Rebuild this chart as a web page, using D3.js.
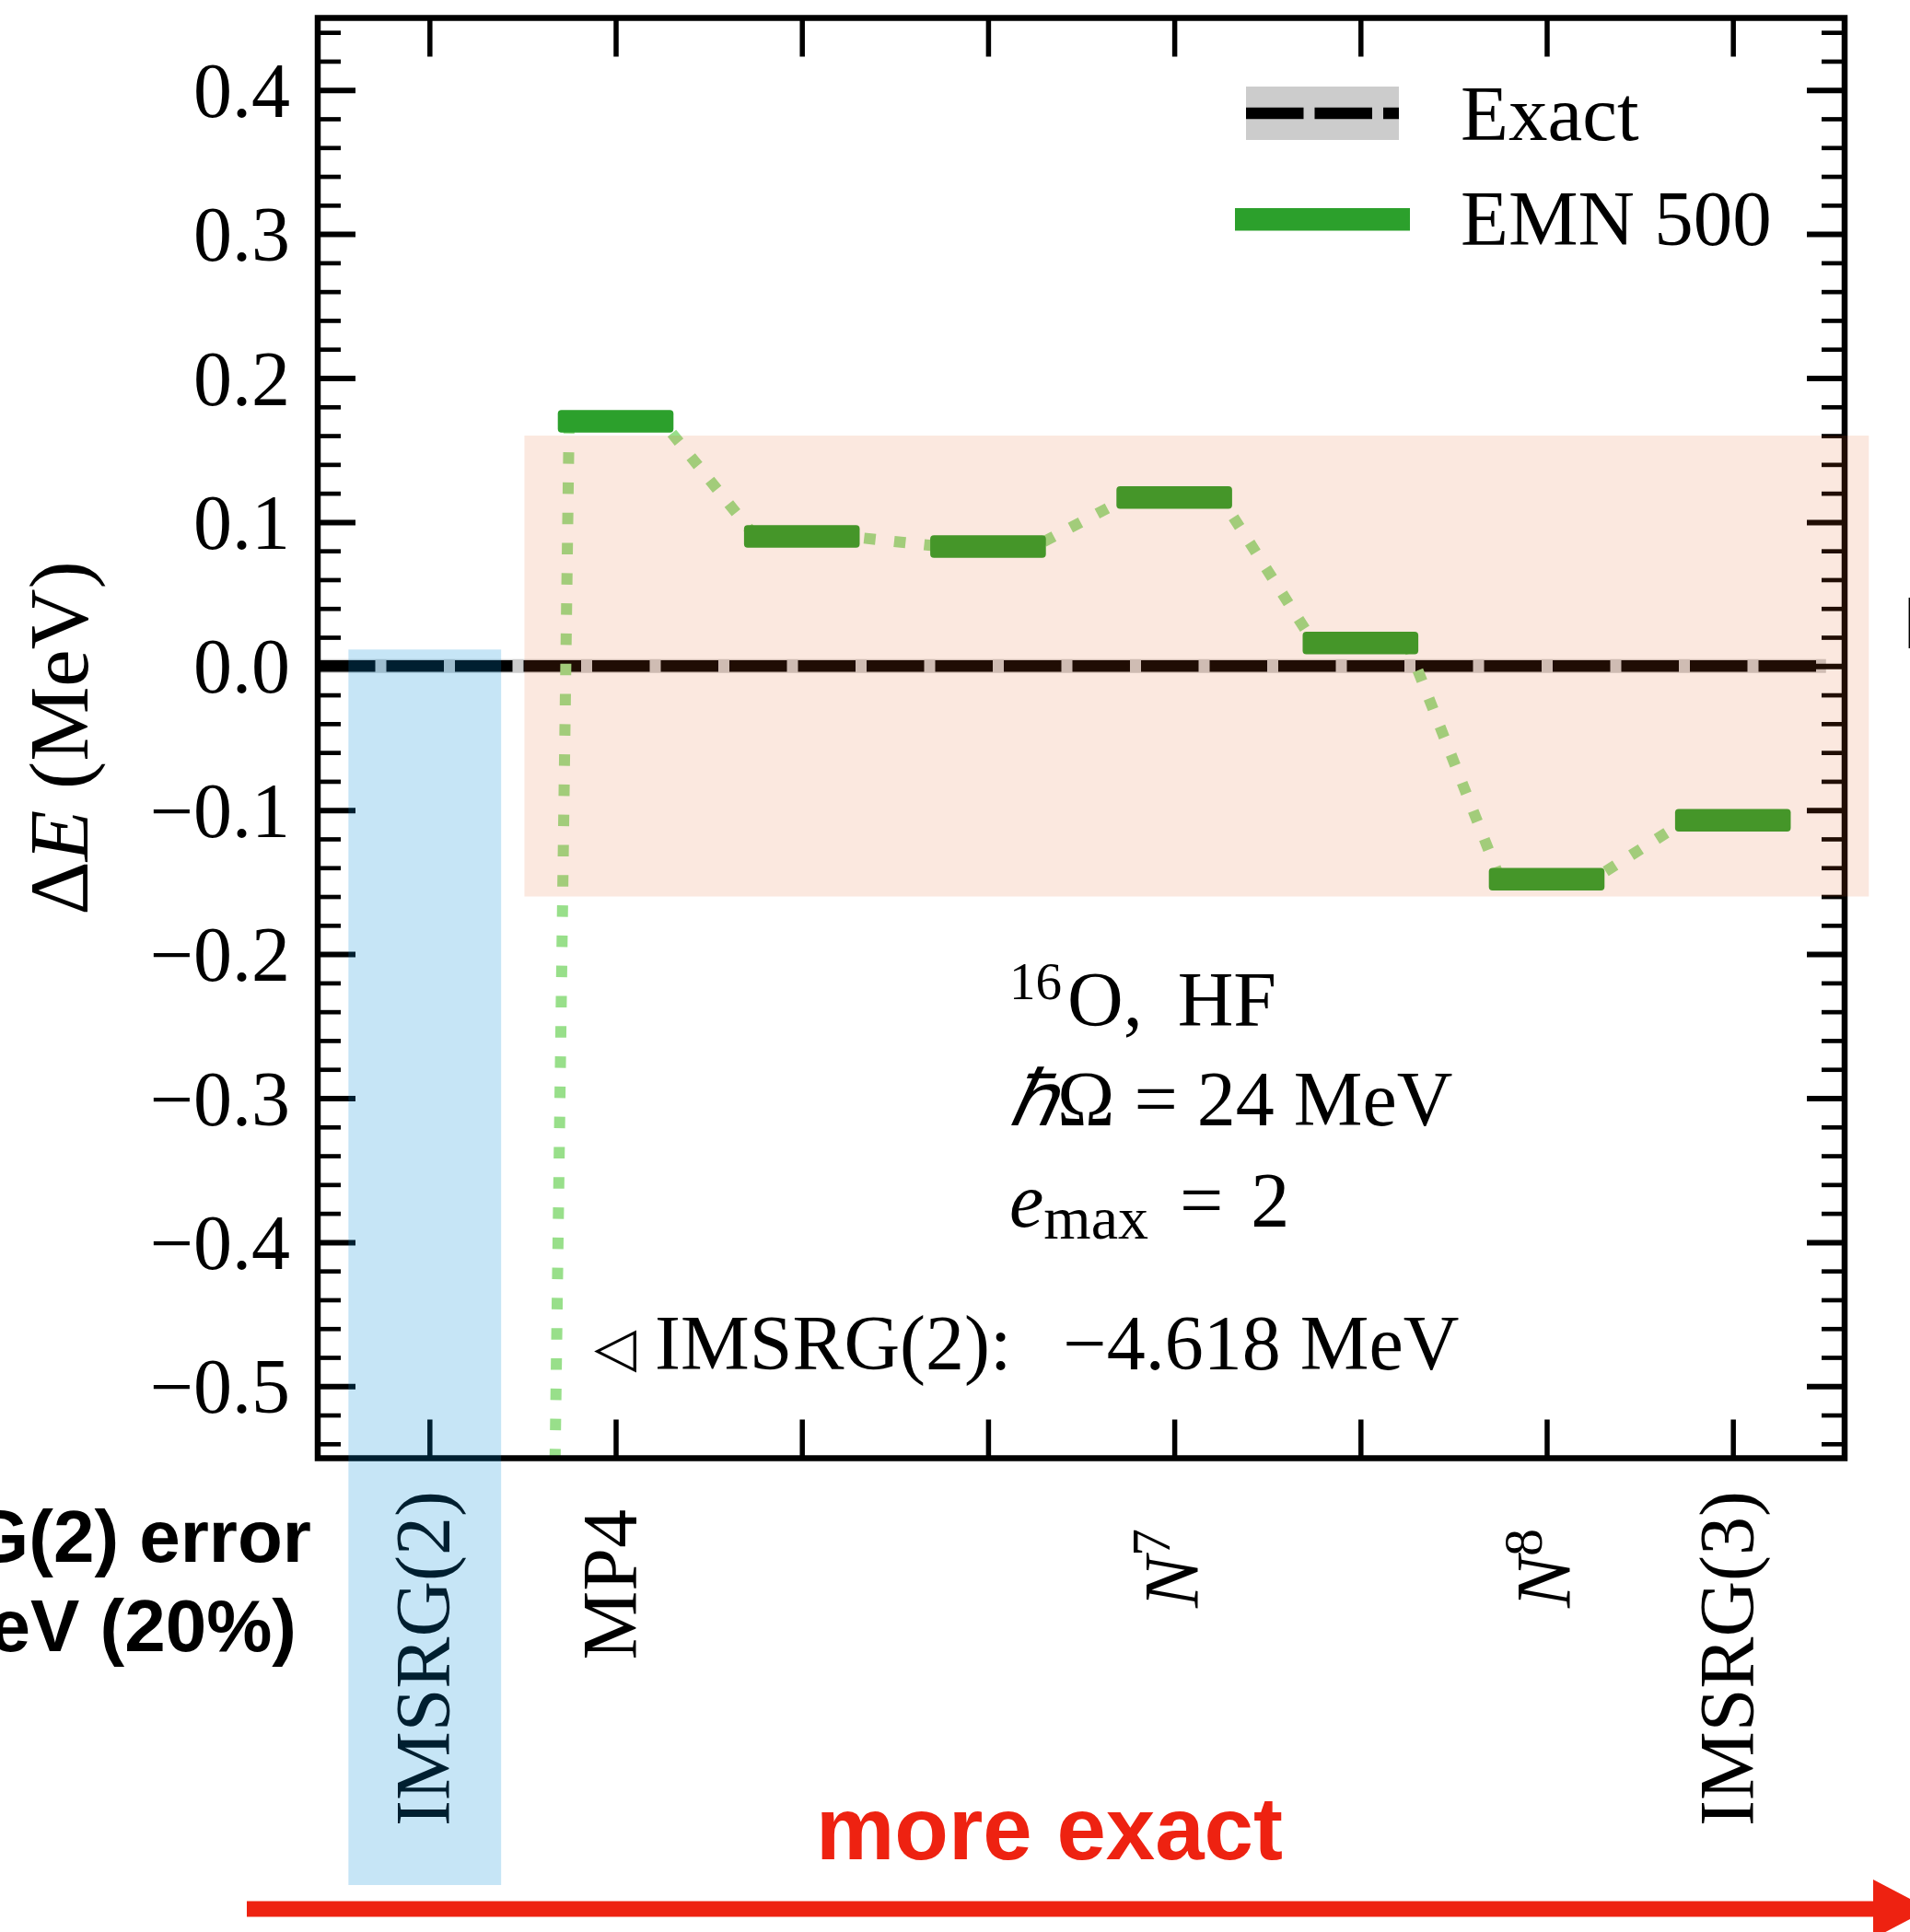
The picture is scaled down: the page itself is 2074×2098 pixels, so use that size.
<!DOCTYPE html>
<html>
<head>
<meta charset="utf-8">
<script src="https://cdn.jsdelivr.net/npm/d3@7"></script>
<style>
  html, body { margin: 0; padding: 0; background: #fff; overflow: hidden; }
  svg { display: block; }
</style>
</head>
<body>
<svg id="fig" width="2074" height="2098"></svg>
<script>
// Ground-state energy differences ΔE = E(method) − E(exact) for 16O (HF basis)
const methodPositions = [0, 1, 2, 3, 4, 5, 6, 7];
const methodLabels = ["IMSRG(2)", "MP4", "", "", "N^7", "", "N^8", "IMSRG(3)"];
const emn500Values = [-4.618, 0.170, 0.090, 0.083, 0.117, 0.016, -0.148, -0.107];
const exactValue = 0.0;
const yMajorTicks = [-0.5, -0.4, -0.3, -0.2, -0.1, 0.0, 0.1, 0.2, 0.3, 0.4];
const legendLabels = ["Exact", "EMN 500"];
const errorWindow = [-0.16, 0.16];        // ±20 % of the IMSRG(2) error
const errorWindowSpan = [0.51, 7.73];     // method-axis extent of that window
const imsrg2Highlight = [-0.435, 0.385];  // method-axis extent of the highlight column

const W = 2074, H = 2098;
const SERIF = "Liberation Serif";
const SANS = "Liberation Sans";
const plot = { left: 345, right: 2003, top: 19.5, bottom: 1583.5 };

const svg = d3.select("#fig");

const x = d3.scaleLinear().domain([-0.6, 7.6]).range([plot.left, plot.right]);
const y = d3.scaleLinear().domain([-0.55, 0.45]).range([plot.bottom, plot.top]);

svg.append("defs").append("clipPath").attr("id", "plotClip")
  .append("rect")
  .attr("x", plot.left).attr("y", plot.top)
  .attr("width", plot.right - plot.left).attr("height", plot.bottom - plot.top);

// ---- data layer ---------------------------------------------------------
const data = svg.append("g").attr("clip-path", "url(#plotClip)");

// exact reference: grey underlay + black dashes
data.append("line")
  .attr("x1", x(-0.6)).attr("x2", x(7.5))
  .attr("y1", y(exactValue)).attr("y2", y(exactValue))
  .attr("stroke", "#cccccc").attr("stroke-width", 15);
data.append("line")
  .attr("x1", x(-0.6)).attr("x2", x(7.5))
  .attr("y1", y(exactValue)).attr("y2", y(exactValue))
  .attr("stroke", "#000").attr("stroke-width", 12.6)
  .attr("stroke-dasharray", "62.5,12");

// connecting dotted path through both ends of every level
const halfLevel = 0.25;
const pathPts = [];
methodPositions.forEach((p, i) => {
  pathPts.push([p - halfLevel, emn500Values[i]]);
  pathPts.push([p + halfLevel, emn500Values[i]]);
});
data.append("path")
  .attr("d", d3.line().x(d => x(d[0])).y(d => y(d[1]))(pathPts))
  .attr("fill", "none")
  .attr("stroke", "#98df8a")
  .attr("stroke-width", 12)
  .attr("stroke-dasharray", "12.5,20.3");

// energy levels
const levelThick = 24.5;
data.selectAll("rect.level")
  .data(methodPositions.map((p, i) => ({ p, v: emn500Values[i] })))
  .join("rect")
  .attr("class", "level")
  .attr("x", d => x(d.p - halfLevel) - levelThick / 2)
  .attr("width", d => x(d.p + halfLevel) - x(d.p - halfLevel) + levelThick)
  .attr("y", d => y(d.v) - levelThick / 2)
  .attr("height", levelThick)
  .attr("rx", 4)
  .attr("fill", "#2ca02c");

// ---- axes -----------------------------------------------------------------
const fmt = d3.format(".1f");
const minorTicks = d3.range(-27, 23).filter(i => i % 5 !== 0).map(i => i * 0.02);

function styleAxis(g, width) {
  g.select(".domain").remove();
  g.selectAll(".tick line").attr("stroke", "#000").attr("stroke-width", width);
}

const axL = svg.append("g").attr("transform", `translate(${plot.left},0)`)
  .call(d3.axisLeft(y).tickValues(yMajorTicks).tickSize(-41).tickPadding(30).tickFormat(fmt));
styleAxis(axL, 6);
axL.selectAll("text")
  .attr("font-family", SERIF).attr("font-size", 84).attr("fill", "#000").attr("dy", "0.34em");

svg.append("g").attr("transform", `translate(${plot.left},0)`)
  .call(d3.axisLeft(y).tickValues(minorTicks).tickSize(-25).tickFormat(""))
  .call(g => styleAxis(g, 4.7));

svg.append("g").attr("transform", `translate(${plot.right},0)`)
  .call(d3.axisRight(y).tickValues(yMajorTicks).tickSize(-41).tickFormat(""))
  .call(g => styleAxis(g, 6));
svg.append("g").attr("transform", `translate(${plot.right},0)`)
  .call(d3.axisRight(y).tickValues(minorTicks).tickSize(-25).tickFormat(""))
  .call(g => styleAxis(g, 4.7));

svg.append("g").attr("transform", `translate(0,${plot.bottom})`)
  .call(d3.axisBottom(x).tickValues(methodPositions).tickSize(-42).tickFormat(""))
  .call(g => styleAxis(g, 5.5));
svg.append("g").attr("transform", `translate(0,${plot.top})`)
  .call(d3.axisTop(x).tickValues(methodPositions).tickSize(-42).tickFormat(""))
  .call(g => styleAxis(g, 5.5));

// frame
svg.append("rect")
  .attr("x", plot.left).attr("y", plot.top)
  .attr("width", plot.right - plot.left).attr("height", plot.bottom - plot.top)
  .attr("fill", "none").attr("stroke", "#000").attr("stroke-width", 6.5);

// rotated method labels (top-aligned below the axis)
const xLab = svg.append("g").attr("font-family", SERIF).attr("font-size", 84).attr("fill", "#000");
methodPositions.forEach((p, i) => {
  const label = methodLabels[i];
  if (!label) return;
  const caret = label.indexOf("^");
  const isMath = caret >= 0;
  const endsParen = label.endsWith(")");
  const top = isMath ? 1660 : (endsParen ? 1619 : 1639);
  const t = xLab.append("text")
    .attr("text-anchor", "end")
    .attr("transform", `translate(${x(p) + (isMath ? 26 : 22)},${top}) rotate(-90)`);
  if (isMath) {
    t.append("tspan").attr("font-style", "italic").text(label.slice(0, caret));
    t.append("tspan").attr("font-size", 60).attr("dy", -31).text(label.slice(caret + 1));
  } else {
    t.text(label);
  }
});

// y-axis title
const yTitle = svg.append("text")
  .attr("font-family", SERIF).attr("font-size", 91).attr("fill", "#000")
  .attr("text-anchor", "middle")
  .attr("transform", `translate(95,${(plot.top + plot.bottom) / 2}) rotate(-90)`);
yTitle.append("tspan").text("Δ");
yTitle.append("tspan").attr("font-style", "italic").text("E");
yTitle.append("tspan").text(" (MeV)");

// ---- legend ---------------------------------------------------------------
const leg = svg.append("g");
leg.append("rect").attr("x", 1353).attr("y", 94).attr("width", 166).attr("height", 58).attr("fill", "#cccccc");
leg.append("line").attr("x1", 1353).attr("x2", 1519).attr("y1", 123).attr("y2", 123)
  .attr("stroke", "#000").attr("stroke-width", 12.6).attr("stroke-dasharray", "62.5,12");
leg.append("rect").attr("x", 1341).attr("y", 226).attr("width", 190).attr("height", 24.5).attr("fill", "#2ca02c");
leg.selectAll("text.leg").data(legendLabels).join("text")
  .attr("class", "leg")
  .attr("x", 1586).attr("y", (d, i) => [151.5, 266][i])
  .attr("font-family", SERIF).attr("font-size", 85).attr("fill", "#000")
  .text(d => d);

// ---- annotations ------------------------------------------------------------
const ann = svg.append("g").attr("font-family", SERIF).attr("font-size", 84).attr("fill", "#000");
const a1 = ann.append("text").attr("x", 1096).attr("y", 1114);
a1.append("tspan").attr("font-size", 57).attr("dy", -29).text("16");
a1.append("tspan").attr("dy", 29).attr("dx", 6).text("O,");
a1.append("tspan").attr("dx", 38).text("HF");

const a2 = ann.append("text").attr("x", 1096).attr("y", 1222);
a2.append("tspan").attr("font-style", "italic").text("ℏ");
a2.append("tspan").text("Ω = 24 MeV");

const a3 = ann.append("text").attr("x", 1096).attr("y", 1332);
a3.append("tspan").attr("font-style", "italic").text("e");
a3.append("tspan").attr("font-size", 66).attr("dy", 13).text("max");
a3.append("tspan").attr("dy", -13).attr("dx", 34).text("=");
a3.append("tspan").attr("dx", 30).text("2");

const a4 = ann.append("text").attr("x", 645).attr("y", 1487);
a4.append("tspan").attr("font-size", 60).attr("dy", -4).text("◁");
a4.append("tspan").attr("dy", 4).attr("dx", 20).text("IMSRG(2):");
a4.append("tspan").attr("dx", 56).text("−4.618 MeV");

// ---- overlays ---------------------------------------------------------------
svg.append("rect")
  .attr("x", x(errorWindowSpan[0])).attr("width", x(errorWindowSpan[1]) - x(errorWindowSpan[0]))
  .attr("y", y(errorWindow[1])).attr("height", y(errorWindow[0]) - y(errorWindow[1]))
  .attr("fill", "rgb(230,95,30)").attr("fill-opacity", 0.14);

svg.append("rect")
  .attr("x", x(imsrg2Highlight[0])).attr("width", x(imsrg2Highlight[1]) - x(imsrg2Highlight[0]))
  .attr("y", y(0.0115)).attr("height", 2047 - y(0.0115))
  .attr("fill", "rgb(0,140,215)").attr("fill-opacity", 0.225);

const side = svg.append("g").attr("font-family", SANS).attr("font-weight", "bold")
  .attr("font-size", 80).attr("fill", "#000").attr("text-anchor", "end");
side.append("text").attr("x", 338).attr("y", 1696).text("IMSRG(2) error");
side.append("text").attr("x", 322).attr("y", 1793).text("~1 MeV (20%)");

svg.append("text").attr("x", 2066).attr("y", 704)
  .attr("font-family", SANS).attr("font-size", 80).attr("fill", "#000").text("E");

// "more exact" arrow
const red = "#ee2211";
svg.append("text").attr("x", 886).attr("y", 2019)
  .attr("font-family", SANS).attr("font-weight", "bold").attr("font-size", 96)
  .attr("fill", red).text("more exact");
svg.append("line").attr("x1", 268).attr("x2", 2040).attr("y1", 2073).attr("y2", 2073)
  .attr("stroke", red).attr("stroke-width", 17);
svg.append("path").attr("d", "M2034,2041 L2095,2073 L2034,2105 Z").attr("fill", red);
</script>
</body>
</html>
